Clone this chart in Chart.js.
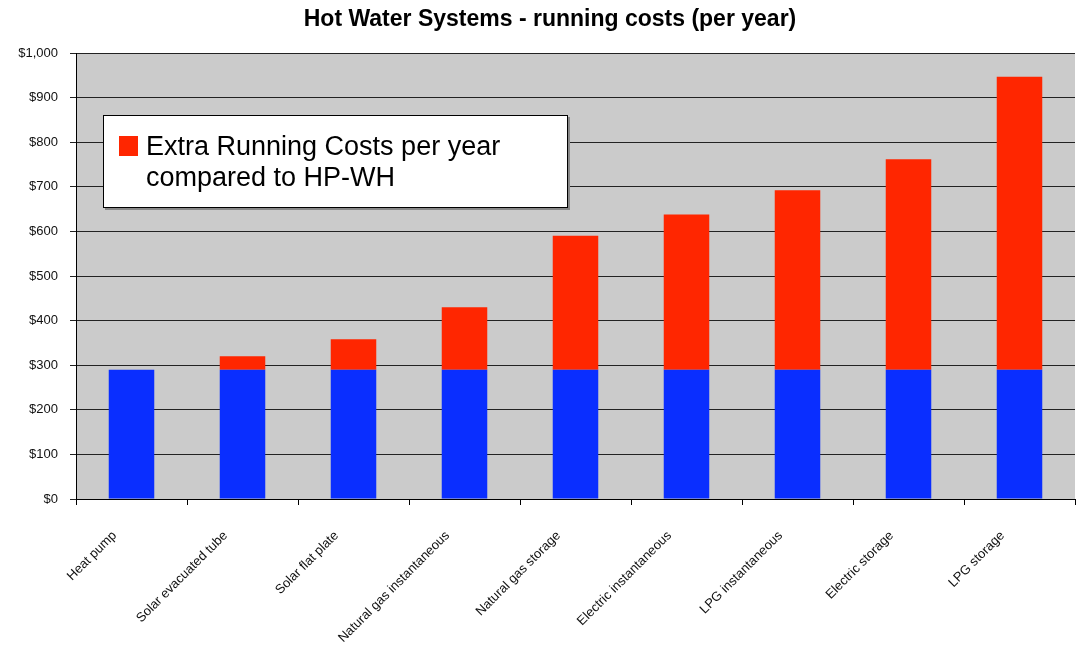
<!DOCTYPE html>
<html>
<head>
<meta charset="utf-8">
<script src="https://cdn.jsdelivr.net/npm/chart.js@4/dist/chart.umd.min.js"></script>
<style>
  html, body { margin: 0; padding: 0; background: #fff; }
  #wrap { width: 1077px; height: 658px; position: relative; }
</style>
</head>
<body>
<div id="wrap"><canvas id="c" width="1077" height="658"></canvas></div>
<script>
const categories = ["Heat pump", "Solar evacuated tube", "Solar flat plate", "Natural gas instantaneous", "Natural gas storage", "Electric instantaneous", "LPG instantaneous", "Electric storage", "LPG storage"];
const baseCost = [290, 290, 290, 290, 290, 290, 290, 290, 290];
const extraCost = [0, 30, 68, 140, 300, 348, 402, 472, 657];
const yTicks = [0, 100, 200, 300, 400, 500, 600, 700, 800, 900, 1000];
const titleText = "Hot Water Systems - running costs (per year)";
const legendLines = ["Extra Running Costs per year", "compared to HP-WH"];

const FONT = "'Liberation Sans', Arial, sans-serif";

const titleDraw = {
  id: 'titleDraw',
  afterDraw(chart) {
    const ctx = chart.ctx;
    ctx.save();
    ctx.fillStyle = '#000';
    ctx.font = "bold 23px " + FONT;
    ctx.textAlign = 'center';
    ctx.textBaseline = 'alphabetic';
    ctx.fillText(titleText, 550, 26);
    ctx.restore();
  }
};

const legendBox = {
  id: 'legendBox',
  afterDatasetsDraw(chart) {
    const ctx = chart.ctx;
    ctx.save();
    const x = 103, y = 115, w = 465, h = 93;
    ctx.fillStyle = '#888';
    ctx.fillRect(x + 2, y + 2, w, h);
    ctx.fillStyle = '#fff';
    ctx.fillRect(x, y, w, h);
    ctx.strokeStyle = '#000';
    ctx.lineWidth = 1;
    ctx.strokeRect(x + 0.5, y + 0.5, w - 1, h - 1);
    ctx.fillStyle = '#FF2600';
    ctx.fillRect(119, 136, 19, 20);
    ctx.fillStyle = '#000';
    ctx.font = "27px " + FONT;
    ctx.textBaseline = 'alphabetic';
    ctx.textAlign = 'left';
    ctx.fillText(legendLines[0], 146, 155);
    ctx.fillText(legendLines[1], 146, 186);
    ctx.restore();
  }
};

const plotBg = {
  id: 'plotBg',
  beforeDraw(chart) {
    const a = chart.chartArea;
    const ctx = chart.ctx;
    ctx.save();
    ctx.fillStyle = '#fff';
    ctx.fillRect(0, 0, chart.width, chart.height);
    ctx.fillStyle = '#CBCBCB';
    ctx.fillRect(a.left, a.top, a.right - a.left, a.bottom - a.top);
    ctx.restore();
  }
};

new Chart(document.getElementById('c'), {
  type: 'bar',
  data: {
    labels: categories,
    datasets: [
      { label: 'Running cost', data: baseCost, backgroundColor: '#0A2EFF', categoryPercentage: 1.0, barPercentage: 0.41 },
      { label: legendLines.join(' '), data: extraCost, backgroundColor: '#FF2600', categoryPercentage: 1.0, barPercentage: 0.41 }
    ]
  },
  options: {
    responsive: false,
    animation: false,
    devicePixelRatio: 1,
    layout: { padding: { left: 0, right: 2, top: 53, bottom: 0 } },
    plugins: {
      legend: { display: false },
      tooltip: { enabled: false },
      title: { display: false }
    },
    scales: {
      x: {
        stacked: true,
        offset: true,
        grid: { display: true, drawOnChartArea: false, drawTicks: true, tickLength: 6, color: '#000', offset: true },
        border: { display: true, color: '#000', width: 1 },
        ticks: {
          color: '#111',
          font: { family: FONT, size: 13 },
          minRotation: 45,
          maxRotation: 45,
          autoSkip: false,
          labelOffset: -17,
          padding: 23
        },
        afterFit(scale) { scale.height = 159; }
      },
      y: {
        stacked: true,
        min: 0,
        max: 1000,
        afterBuildTicks(scale) { scale.ticks = yTicks.map(v => ({ value: v })); },
        grid: { color: '#222', lineWidth: 1, drawTicks: true, tickLength: 6 },
        border: { display: true, color: '#000', width: 1 },
        ticks: {
          color: '#111',
          font: { family: FONT, size: 13 },
          padding: 12,
          callback: (v) => '$' + Number(v).toLocaleString('en-US')
        },
        afterFit(scale) { scale.width = 76; }
      }
    }
  },
  plugins: [plotBg, legendBox, titleDraw]
});
</script>
</body>
</html>
